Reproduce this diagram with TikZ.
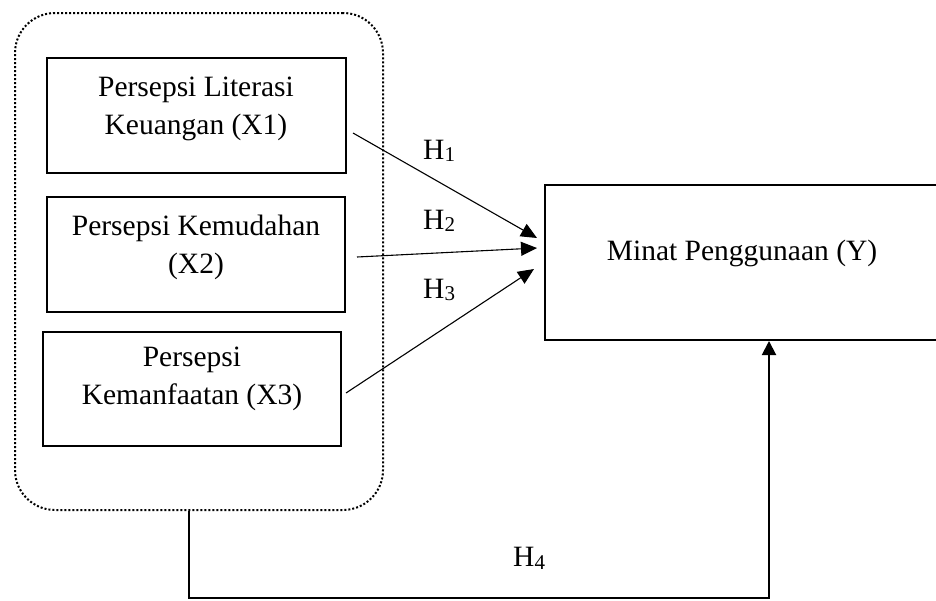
\documentclass[tikz,border=0pt]{standalone}
\usepackage{fontspec}
\setmainfont{Liberation Serif}
\usetikzlibrary{arrows.meta,calc}
\newcommand\hlab[1]{H\raisebox{-2.5pt}{\fontsize{21}{21}\selectfont #1}}
\begin{document}
\begin{tikzpicture}[x=1pt,y=-1pt,
  box/.style={draw, line width=2pt, inner sep=0pt},
  grp/.style={draw, line width=2pt, dash pattern=on 2pt off 2pt, rounded corners=40pt, inner sep=0pt},
  lbl/.style={font=\fontsize{29.5}{38}\selectfont, align=center, inner sep=0pt},
  hl/.style={font=\fontsize{29.5}{34}\selectfont, inner sep=0pt, anchor=base west},
  arr/.style={line width=1.1pt, -{Triangle[length=16pt,width=14pt]}},
  conn/.style={line width=2pt, -{Triangle[length=14pt,width=14pt]}}]
\useasboundingbox (0,0) rectangle (936,600);
\fill[white] (0,0) rectangle (936,600);
\clip (0,0) rectangle (936,600);

% group
\node[grp, minimum width=368pt, minimum height=497pt] (g) at (199,261.5) {};

% independent variable boxes
\node[box, minimum width=299pt, minimum height=115pt] (x1) at (196.5,115.5) {};
\node[lbl] (t1) at (196,109) {Persepsi Literasi\\Keuangan (X1)};
\node[box, minimum width=298pt, minimum height=115pt] (x2) at (196,254.5) {};
\node[lbl] (t2) at (196,247.5) {Persepsi Kemudahan\\(X2)};
\node[box, minimum width=298pt, minimum height=114pt] (x3) at (192,389) {};
\node[lbl] (t3) at (192,379) {Persepsi\\Kemanfaatan (X3)};

% dependent variable
\node[box, minimum width=415pt, minimum height=155pt] (yb) at (752.5,262.5) {};
\node[lbl] (ty) at (742,253) {Minat Penggunaan (Y)};

% arrows
\coordinate (s1) at ($(x1.east)+(6,17.5)$);
\coordinate (e1) at ($(yb.west)+(-7,-24.5)$);
\coordinate (s2) at ($(x2.east)+(11,2.5)$);
\coordinate (e2) at ($(yb.west)+(-7,-14.5)$);
\coordinate (s3) at ($(x3.east)+(4,4)$);
\coordinate (e3) at ($(yb.west)+(-10,6.5)$);
\draw[arr] (s1) -- (e1);
\draw[arr] (s2) -- (e2);
\draw[arr] (s3) -- (e3);

\coordinate (b1) at ($(g.south)+(-10,0)$);
\coordinate (tip) at ($(yb.south)+(16.5,0)$);
\draw[conn] (b1) -- ++(0,87) -| (tip);

% hypothesis labels
\node[hl] (h1) at (423,159.3) {\hlab{1}};
\node[hl] (h2) at (423,229.3) {\hlab{2}};
\node[hl] (h3) at (423,298.3) {\hlab{3}};
\node[hl] (h4) at (513,566.7) {\hlab{4}};
\end{tikzpicture}
\end{document}
